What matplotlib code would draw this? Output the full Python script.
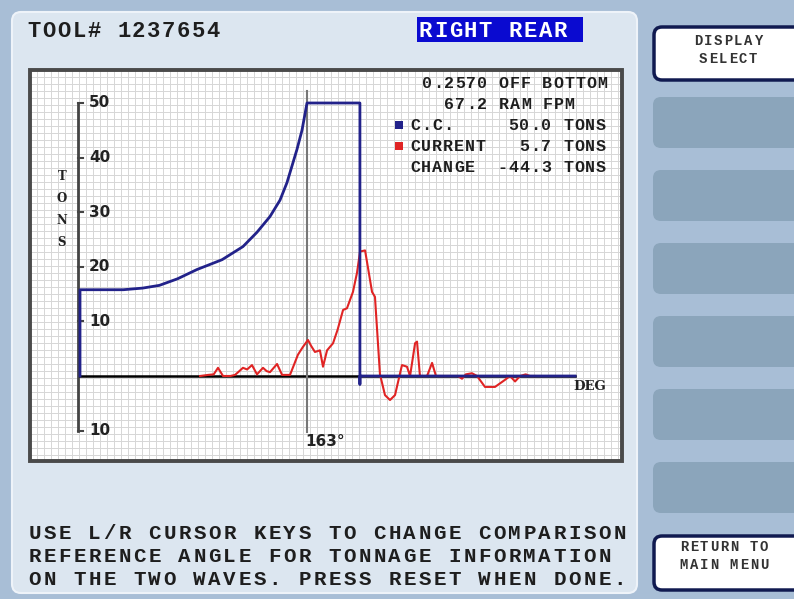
import matplotlib
matplotlib.use("Agg")
from matplotlib import pyplot as plt
from matplotlib.patches import FancyBboxPatch, Rectangle

# ---- data ----
cc_deg = [0, 0, 31, 45, 57, 70, 84, 102, 117, 127, 136.4, 143.6, 148.6, 155.8, 159.4, 163, 201, 201, 201, 355.5]
cc_tons = [0, 15.8, 15.8, 16.1, 16.6, 17.8, 19.5, 21.3, 23.7, 26.3, 29.2, 32.2, 35.4, 41.5, 45.0, 50, 50, -1.5, 0, 0]

cur_deg = [86.2, 92, 96, 99.1, 102.7, 108, 111.3, 114, 117.0, 120,
           123.5, 127.1, 131.4, 134, 136.4, 141.5, 145.1, 150.8, 156.5, 160,
           163.7, 166, 168.7, 172.3, 174.5, 177.4, 181.7, 185, 188.9, 191.7,
           196.0, 198.9, 201.1, 204.7, 207, 209.7, 211.8, 215.4, 219.0, 222.6,
           226.2, 231.2, 234.8, 237.0, 240.6, 242.0, 244.1, 249.2, 252.8, 255.6,
           260.7, 271.4, 274.3, 277, 281.5, 285.1, 290.8, 298.0, 305.2, 308.8,
           312.4, 316.0, 320, 323.1, 326.7]
cur_tons = [0, 0.2, 0.3, 1.5, 0, 0, 0.2, 0.8, 1.5, 1.2,
            2.0, 0.3, 1.5, 0.9, 0.7, 2.2, 0.2, 0.2, 3.9, 5.3,
            6.6, 5.5, 4.4, 4.7, 1.7, 4.7, 6.0, 8.5, 12.1, 12.4,
            15.4, 18.9, 22.8, 23.0, 19.5, 15.4, 14.5, 0.3, -3.5, -4.4,
            -3.5, 2.0, 1.7, 0, 6.0, 6.3, 0, 0, 2.4, 0,
            0, 0, -0.5, 0.3, 0.5, 0, -2.0, -2.0, -0.7, 0,
            -1.0, 0, 0.3, 0, 0]

y_ticks = [50, 40, 30, 20, 10, -10]
y_tick_labels = ["50", "40", "30", "20", "10", "10"]
cursor_deg = 163
x_end = 355.5

legend_lines = ["0.2570 OFF BOTTOM", "67.2 RAM FPM", "C.C.     50.0 TONS",
                "CURRENT   5.7 TONS", "CHANGE  -44.3 TONS"]
help_lines = ["USE L/R CURSOR KEYS TO CHANGE COMPARISON",
              "REFERENCE ANGLE FOR TONNAGE INFORMATION",
              "ON THE TWO WAVES. PRESS RESET WHEN DONE."]

MONO = "Liberation Mono"
BLUE = "#22228a"
RED = "#e02424"
INK = "#1e1e1e"

# pixel layout of the chart box
BOX_L, BOX_R, BOX_T, BOX_B = 30, 622, 70, 461
X0_PX, Y0_PX = 80, 376
PX_DEG = (307 - 80) / 163.0
PX_TON = (376 - 103) / 50.0

fig = plt.figure(figsize=(7.94, 5.99), dpi=100)
fig.patch.set_facecolor("#a8bed6")

bg = fig.add_axes([0, 0, 1, 1])
bg.set_xlim(0, 794)
bg.set_ylim(599, 0)
bg.axis("off")


def mono(x, y, s, pitch, size, color=INK, z=5):
    # terminal style text: one glyph per fixed cell, y is the baseline
    for i, ch in enumerate(s):
        if ch != " ":
            bg.text(x + pitch * i + pitch / 2, y, ch, family=MONO, weight="bold",
                    fontsize=size, color=color, ha="center", va="baseline", zorder=z)


# main panel
bg.add_patch(FancyBboxPatch((12, 12), 625, 581, boxstyle="round,pad=0,rounding_size=9",
                            facecolor="#dce6f0", edgecolor="#eef3f9", lw=1.5))

# right hand buttons
bg.add_patch(FancyBboxPatch((654, 27), 160, 53, boxstyle="round,pad=0,rounding_size=8",
                            facecolor="white", edgecolor="#101a50", lw=2.5))
for yb in [97, 170, 243, 316, 389, 462]:
    bg.add_patch(FancyBboxPatch((653, yb), 160, 51, boxstyle="round,pad=0,rounding_size=8",
                                facecolor="#8ba5bb", edgecolor="none"))
bg.add_patch(FancyBboxPatch((654, 536), 160, 54, boxstyle="round,pad=0,rounding_size=8",
                            facecolor="white", edgecolor="#101a50", lw=2.5))
mono(693, 45, "DISPLAY", 10, 10, "#333")
mono(698, 63, "SELECT", 10, 10, "#333")
mono(679, 551, "RETURN TO", 10, 10, "#333")
mono(679, 569, "MAIN MENU", 10, 10, "#333")

# header
mono(27, 37, "TOOL# 1237654", 14.9, 16)
bg.add_patch(Rectangle((417, 17), 166, 25, facecolor="#0a0ad0", edgecolor="none"))
mono(418, 37, "RIGHT REAR", 15, 16, "white")

# chart box with fine grid
bg.add_patch(Rectangle((BOX_L, BOX_T), BOX_R - BOX_L, BOX_B - BOX_T, facecolor="white",
                       edgecolor="none", zorder=1))
gx = BOX_L
while gx < BOX_R:
    bg.plot([gx, gx], [BOX_T, BOX_B], color="#d6d6d6", lw=0.7, zorder=2)
    gx += 7
gy = BOX_T
while gy < BOX_B:
    bg.plot([BOX_L, BOX_R], [gy, gy], color="#d6d6d6", lw=0.7, zorder=2)
    gy += 7
bg.add_patch(Rectangle((BOX_L, BOX_T), BOX_R - BOX_L, BOX_B - BOX_T, facecolor="none",
                       edgecolor="#4a4a4a", lw=2.8, zorder=4))

# legend block
leg_x = [422, 444, 410, 410, 410]
leg_y = [88, 109, 130, 151, 172]
for s, lx, ly in zip(legend_lines, leg_x, leg_y):
    mono(lx, ly, s, 10.9, 12)
bg.add_patch(Rectangle((395, 121), 8, 8, facecolor=BLUE, edgecolor="none", zorder=4))
bg.add_patch(Rectangle((395, 142), 8, 8, facecolor=RED, edgecolor="none", zorder=4))

# help text
for i, s in enumerate(help_lines):
    mono(27, 539 + 23 * i, s, 15.0, 15)

# ---- data axes over the chart box ----
W, H = 794.0, 599.0
ax = fig.add_axes([BOX_L / W, (H - BOX_B) / H, (BOX_R - BOX_L) / W, (BOX_B - BOX_T) / H])
ax.patch.set_alpha(0)
ax.axis("off")
ax.set_xlim((BOX_L - X0_PX) / PX_DEG, (BOX_R - X0_PX) / PX_DEG)
ax.set_ylim(-(BOX_B - Y0_PX) / PX_TON, (Y0_PX - BOX_T) / PX_TON)

# y axis with ticks
ya = -1.5
ax.plot([ya, ya], [y_ticks[-1], y_ticks[0]], color="#444", lw=2)
for v, lab in zip(y_ticks, y_tick_labels):
    ax.plot([ya, ya + 3.5], [v, v], color="#444", lw=1.5)
    ax.text(ya + 8, v, lab, fontsize=11, weight="bold", color="#222", va="center", ha="left")
for i, ch in enumerate("TONS"):
    ax.text(-13, 36.5 - 4.0 * i, ch, family="DejaVu Serif", weight="bold", fontsize=8.5,
            color="#222", ha="center", va="center")

# x axis and cursor
ax.plot([0, x_end], [0, 0], color="black", lw=1.8)
ax.text(x_end - 1.5, -1.9, "DEG", family="DejaVu Serif", weight="bold", fontsize=9.5,
        color="#222", va="center")
ax.plot([cursor_deg, cursor_deg], [52.2, -10.3], color="#777", lw=1.5)
ax.text(cursor_deg - 1.5, -10.6, "163°", fontsize=11, weight="bold", color="#222", va="top", ha="left")

ax.plot(cur_deg, cur_tons, color=RED, lw=1.5, zorder=3)
ax.plot(cc_deg, cc_tons, color=BLUE, lw=2, zorder=4)

fig.savefig("out.png", dpi=100)
